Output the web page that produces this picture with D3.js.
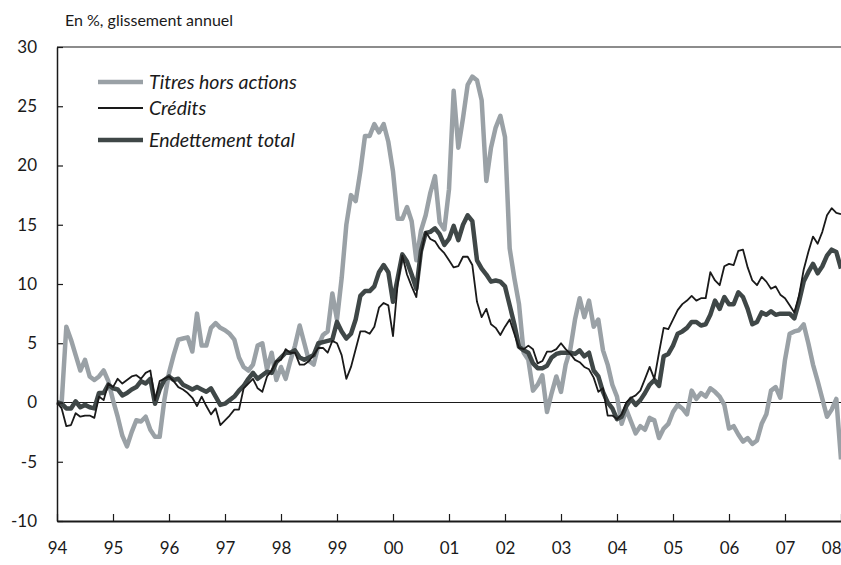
<!DOCTYPE html>
<html>
<head>
<meta charset="utf-8">
<script src="https://cdn.jsdelivr.net/npm/d3@7"></script>
<style>
  html, body { margin: 0; padding: 0; background: #fff; }
  svg { display: block; }
  text { font-family: Lato, "Open Sans", sans-serif; fill: #1a1a1a; }
</style>
</head>
<body>
<svg id="chart" width="841" height="565"></svg>
<script>
// Monthly data, January 1994 .. January 2008 (annual growth, %)
const startYear = 1994;
const yTicks = [-10, -5, 0, 5, 10, 15, 20, 25, 30];
const xTicks = [1994, 1995, 1996, 1997, 1998, 1999, 2000, 2001, 2002, 2003, 2004, 2005, 2006, 2007, 2008];

const titres = [
  0, 0, 6.4, 5.3, 4.0, 2.7, 3.6, 2.2, 1.9, 2.2, 2.7, 1.8,
  0.2, -1.2, -2.8, -3.7, -2.5, -1.5, -1.6, -1.2, -2.3, -2.9, -2.9, 0.2,
  2.5, 4.0, 5.3, 5.4, 5.5, 4.3, 7.5, 4.8, 4.8, 6.3, 6.7, 6.3,
  6.1, 5.8, 5.3, 3.8, 3.0, 2.7, 3.2, 4.8, 5.0, 2.8, 4.2, 1.9,
  3.0, 2.0, 3.5, 4.8, 6.5, 5.0, 3.5, 3.2, 4.8, 5.7, 6.0, 9.2,
  7.0, 10.5, 15.0, 17.5, 17.0, 19.5, 22.5, 22.5, 23.5, 22.8, 23.5, 22.0,
  19.5, 15.5, 15.5, 16.5, 15.3, 12.0, 14.5, 15.8, 17.7, 19.1, 15.2, 14.6,
  18.0, 26.3, 21.5, 24.0, 26.8, 27.5, 27.2, 25.5, 18.7, 21.5, 23.2, 24.2,
  22.4, 13.0, 10.5, 8.3, 4.2, 3.6, 1.0, 1.5, 2.3, -0.8, 0.8, 2.2,
  0.9, 3.2, 4.5, 7.0, 8.8, 7.2, 8.6, 6.4, 7.0, 4.4, 3.2, 1.5,
  0.5, -1.8, -0.6, -1.6, -2.6, -2.0, -2.3, -1.3, -1.5, -3.0, -2.2, -1.8,
  -0.8, -0.2, -0.5, -1.0, 1.0, 0.3, 0.8, 0.5, 1.2, 0.9, 0.5, -0.2,
  -2.2, -2.0, -2.7, -3.3, -3.0, -3.5, -3.2, -1.8, -1.0, 1.0, 1.3, 0.4,
  3.6, 5.8, 6.0, 6.1, 6.6, 5.0, 3.2, 1.8, 0.3, -1.2, -0.6, 0.3,
  -4.8
];

const credits = [
  0, -0.5, -2.0, -1.9, -0.9, -1.2, -1.1, -1.1, -1.3, 0.5, 0.2, 1.6,
  1.3, 2.0, 1.6, 1.9, 2.2, 2.3, 2.0, 2.5, 2.7, 0.2, 1.8, 2.0,
  2.2, 1.8, 1.3, 1.1, 0.8, 0.4, -0.3, 0.5, -0.3, -1.0, -0.5, -1.9,
  -1.5, -1.1, -0.6, -0.6, 1.2, 1.6, 2.0, 1.2, 0.9, 2.2, 2.7, 3.5,
  3.6, 4.5, 4.2, 4.2, 3.2, 3.2, 3.5, 4.0, 4.6, 4.6, 4.2, 5.2,
  5.0, 4.0, 2.0, 3.0, 4.5, 6.0, 6.0, 5.8, 6.4, 8.0, 8.4, 8.2,
  5.6, 10.0, 12.4, 10.8, 9.8, 8.9, 12.5, 14.4, 13.8, 13.6, 13.0, 12.6,
  12.0, 11.4, 11.5, 12.3, 12.3, 11.6, 8.5, 7.2, 7.9, 6.6, 6.3, 5.7,
  6.4, 7.0, 5.8, 4.6, 4.5, 4.8, 4.5, 3.3, 3.5, 4.3, 4.3, 4.5,
  5.0, 4.5, 4.1, 3.6, 3.4, 3.0, 2.8, 2.1, 0.9, 1.2, -1.1, -1.1,
  -1.4, -1.0, 0.0, 0.4, 0.6, 1.0, 2.0, 3.0, 2.0, 4.2, 6.3, 6.2,
  7.0, 7.8, 8.3, 8.6, 9.0, 8.6, 8.8, 8.8, 11.0, 10.3, 9.9, 11.5,
  11.7, 11.6, 12.8, 12.9, 11.4, 10.3, 9.9, 10.6, 10.2, 9.6, 9.8, 9.1,
  8.8, 8.2, 7.6, 9.0, 11.2, 12.7, 14.0, 13.4, 14.4, 15.8, 16.4, 16.0,
  15.9
];

const endettement = [
  0, -0.1, -0.5, -0.5, 0.1, -0.4, -0.2, -0.4, -0.5, 0.8, 0.8, 1.5,
  1.2, 1.1, 0.6, 0.8, 1.1, 1.3, 1.8, 1.6, 2.0, -0.1, 1.1, 1.9,
  2.2, 1.9, 2.0, 1.5, 1.3, 1.1, 1.3, 1.1, 0.9, 1.2, 0.5, -0.2,
  -0.1, 0.2, 0.5, 1.0, 1.4, 2.0, 2.5, 2.0, 2.3, 2.6, 2.5, 3.4,
  3.8, 4.2, 4.2, 4.4, 3.8, 3.6, 3.8, 4.0, 5.0, 5.1, 5.2, 5.3,
  6.8, 6.0, 5.4, 5.8, 7.0, 9.0, 9.4, 9.4, 9.8, 11.0, 11.6, 11.0,
  8.5, 10.5, 12.5, 11.9, 10.8, 9.6, 12.8, 14.3, 14.4, 14.7, 14.2, 13.3,
  13.8, 14.9, 13.7, 15.0, 15.8, 15.3, 12.0, 11.3, 10.8, 10.2, 10.3, 10.2,
  9.8, 8.2, 6.6, 4.7, 4.4, 4.2, 3.3, 2.9, 2.9, 3.1, 3.8, 4.1,
  4.2, 4.2, 4.2, 4.1, 4.4, 3.9, 4.2, 2.7, 2.2, 0.9, 0.0, -0.5,
  -1.4, -1.2, -0.3, 0.3, -0.2, 0.2, 0.8, 1.5, 1.9, 1.4, 3.9, 4.1,
  4.8, 5.8, 6.0, 6.3, 6.8, 6.8, 6.5, 6.6, 7.4, 8.6, 7.9, 8.9,
  8.3, 8.3, 9.3, 8.9, 7.9, 6.6, 6.8, 7.6, 7.4, 7.7, 7.4, 7.5,
  7.5, 7.5, 7.1, 8.5, 10.2, 11.0, 11.7, 10.9, 11.5, 12.4, 12.9, 12.7,
  11.3
];

const seriesNames = ["Titres hors actions", "Crédits", "Endettement total"];
const seriesColors = ["#9aa1a6", "#1a1a1a", "#3f4747"];
const seriesWidths = [4.5, 1.8, 4.5];

const svg = d3.select("#chart");
const mLeft = 57, mRight = 841, mTop = 47, mBottom = 521;

const x = d3.scaleLinear().domain([1994, 2008]).range([mLeft, mRight]);
const y = d3.scaleLinear().domain([-10, 30]).range([mBottom, mTop]);

// title
svg.append("text").attr("x", 65).attr("y", 26)
  .style("font-size", "16px").text("En %, glissement annuel");

// top frame line
svg.append("line").attr("x1", mLeft).attr("x2", mRight).attr("y1", mTop).attr("y2", mTop)
  .attr("stroke", "#1a1a1a").attr("stroke-width", 1.2);

// zero line
svg.append("line").attr("x1", mLeft).attr("x2", mRight).attr("y1", y(0)).attr("y2", y(0))
  .attr("stroke", "#1a1a1a").attr("stroke-width", 1.2);

// lines
const toPts = arr => arr.map((v, i) => [startYear + i / 12, v]);
const line = d3.line().x(d => x(d[0])).y(d => y(d[1]));
const data = [titres, credits, endettement];
const drawOrder = [0, 2, 1];
drawOrder.forEach(k => {
  svg.append("path").datum(toPts(data[k]))
    .attr("d", line).attr("fill", "none")
    .attr("stroke", seriesColors[k]).attr("stroke-width", seriesWidths[k])
    .attr("stroke-linejoin", "round").attr("stroke-linecap", "butt");
});

// axes
const yAxis = d3.axisLeft(y).tickValues(yTicks).tickSizeInner(-6).tickSizeOuter(0).tickPadding(20)
  .tickFormat(d => d);
const gy = svg.append("g").attr("transform", `translate(${mLeft},0)`).call(yAxis);
gy.selectAll("text").style("font-size", "17px").attr("fill", "#1a1a1a");
gy.selectAll("line").attr("stroke", "#1a1a1a").attr("stroke-width", 1.2);
gy.select(".domain").attr("stroke", "#1a1a1a").attr("stroke-width", 1.5);

const xAxis = d3.axisBottom(x).tickValues(xTicks).tickSizeInner(-7).tickSizeOuter(0).tickPadding(21)
  .tickFormat(d => String(d % 100).padStart(2, "0"));
const gx = svg.append("g").attr("transform", `translate(0,${mBottom})`).call(xAxis);
gx.selectAll("text").style("font-size", "17px").attr("fill", "#1a1a1a");
gx.selectAll(".tick").filter(d => d === 2008).select("text").attr("text-anchor", "end").attr("x", 0);
gx.selectAll("line").attr("stroke", "#1a1a1a").attr("stroke-width", 1.2);
gx.select(".domain").attr("stroke", "#1a1a1a").attr("stroke-width", 2);

// legend
const legY = [82, 108, 140];
seriesNames.forEach((name, k) => {
  svg.append("line").attr("x1", 98).attr("x2", 143).attr("y1", legY[k]).attr("y2", legY[k])
    .attr("stroke", seriesColors[k]).attr("stroke-width", seriesWidths[k]);
  svg.append("text").attr("x", 149).attr("y", legY[k]).attr("dy", "0.36em")
    .style("font-size", "19.5px").style("font-style", "italic").text(name);
});
</script>
</body>
</html>
